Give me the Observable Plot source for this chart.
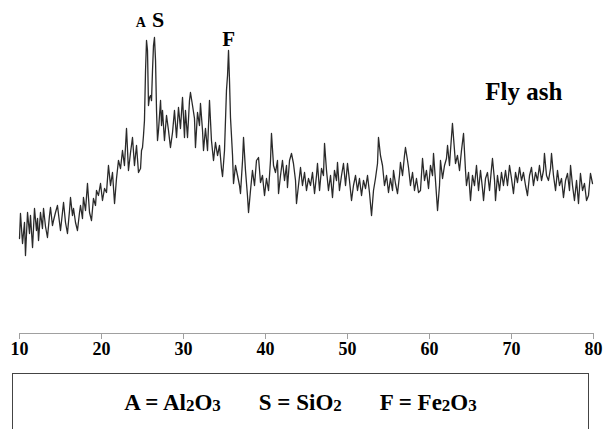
<!DOCTYPE html>
<html>
<head>
<meta charset="utf-8">
<script src="https://cdn.jsdelivr.net/npm/d3@7"></script>
<script src="https://cdn.jsdelivr.net/npm/@observablehq/plot@0.6"></script>
<style>
  html, body { margin: 0; padding: 0; background: #fff; }
  #chart { width: 604px; }
  #legend {
    position: absolute; left: 12px; top: 373px; width: 577px; height: 70px;
    border: 1.5px solid #444; box-sizing: border-box;
    font-family: "Liberation Serif", "Times New Roman", serif; font-weight: bold;
    font-size: 23px; color: #000; text-align: center; padding-top: 16px; white-space: nowrap;
  }
  #legend span { margin: 0 19px; }
  #legend sub { font-size: 17px; vertical-align: -1px; }
</style>
</head>
<body>
<div id="chart"></div>
<div id="legend"><span>A = Al<sub>2</sub>O<sub>3</sub></span><span>S = SiO<sub>2</sub></span><span>F = Fe<sub>2</sub>O<sub>3</sub></span></div>
<script>
const twoTheta = [
10.00,10.12,10.37,10.61,10.73,10.98,11.22,11.34,11.59,11.83,12.07,12.20,12.32,12.56,12.80,12.93,13.17,13.41,13.66,13.78,
14.02,14.15,14.39,14.63,14.88,15.00,15.24,15.37,15.61,15.85,16.10,16.22,16.46,16.59,16.83,17.07,17.32,17.44,17.68,17.80,
18.05,18.29,18.54,18.78,19.02,19.27,19.39,19.63,19.88,20.12,20.37,20.61,20.85,21.10,21.34,21.59,21.83,22.07,22.32,22.56,
22.80,23.05,23.29,23.54,23.78,24.02,24.27,24.51,24.76,24.88,25.00,25.12,25.24,25.37,25.49,25.61,25.73,25.85,25.98,26.10,
26.22,26.34,26.46,26.59,26.71,26.83,26.95,27.20,27.32,27.44,27.68,27.93,28.17,28.41,28.66,28.90,29.15,29.39,29.63,29.88,
30.12,30.24,30.49,30.73,30.85,31.10,31.34,31.46,31.71,31.95,32.07,32.32,32.44,32.68,32.93,33.17,33.41,33.66,33.90,34.15,
34.39,34.63,34.76,35.00,35.12,35.24,35.37,35.49,35.61,35.73,35.85,35.98,36.10,36.34,36.59,36.83,36.95,37.20,37.32,37.56,
37.80,37.93,38.17,38.41,38.66,38.90,39.15,39.39,39.63,39.88,40.12,40.37,40.61,40.73,40.98,41.22,41.46,41.59,41.83,42.07,
42.32,42.56,42.68,42.93,43.17,43.41,43.66,43.78,44.02,44.27,44.51,44.76,45.00,45.24,45.49,45.73,45.98,46.22,46.34,46.59,
46.83,47.07,47.20,47.44,47.68,47.93,48.17,48.41,48.66,48.78,49.02,49.27,49.51,49.76,50.00,50.24,50.49,50.73,50.98,51.22,
51.46,51.71,51.95,52.20,52.44,52.68,52.93,53.17,53.41,53.66,53.78,54.02,54.27,54.51,54.76,55.00,55.24,55.49,55.61,55.85,
56.10,56.34,56.46,56.71,56.95,57.07,57.32,57.44,57.68,57.93,58.17,58.41,58.66,58.90,59.15,59.39,59.63,59.88,60.12,60.37,
60.49,60.73,60.98,61.22,61.34,61.59,61.83,62.07,62.20,62.44,62.56,62.80,63.05,63.17,63.41,63.66,63.90,64.15,64.39,64.51,
64.76,65.00,65.24,65.49,65.73,65.98,66.22,66.46,66.59,66.83,67.07,67.32,67.56,67.68,67.93,68.05,68.29,68.54,68.78,69.02,
69.27,69.51,69.76,70.00,70.24,70.49,70.73,70.98,71.22,71.46,71.71,71.95,72.20,72.44,72.68,72.93,73.17,73.41,73.66,73.90,
74.02,74.27,74.51,74.76,74.88,75.12,75.37,75.61,75.85,76.10,76.34,76.59,76.83,77.07,77.20,77.44,77.68,77.93,78.17,78.41,
78.66,78.90,79.15,79.39,79.63,79.88
];
const intensity = [
190,240,180,222,156,242,200,236,172,250,206,230,186,242,210,250,214,192,236,252,
216,226,242,256,222,206,242,262,222,200,246,272,236,250,222,206,242,256,230,272,
246,300,242,226,270,256,286,276,300,266,290,282,336,296,322,260,310,346,330,366,
336,410,326,362,392,336,376,322,330,366,372,396,426,526,586,566,456,472,476,466,
526,576,592,546,446,386,406,466,416,446,386,436,406,372,402,446,392,452,410,472,
392,446,392,466,482,456,430,372,442,416,460,406,366,410,366,466,386,346,382,356,
376,330,314,366,426,486,516,566,506,432,396,356,300,336,316,296,280,346,392,326,
276,242,286,326,296,346,352,302,316,276,310,286,346,400,336,322,346,280,316,346,
306,336,292,346,360,340,306,260,296,332,296,322,286,310,296,322,280,316,340,286,
330,316,380,326,286,316,272,326,306,342,286,316,340,296,340,306,266,296,316,286,
310,276,306,290,316,282,236,286,310,340,392,356,336,296,316,282,310,286,326,300,
280,316,342,316,356,372,346,332,296,322,286,310,282,286,350,306,326,290,336,316,
360,306,246,296,346,310,336,350,376,336,366,420,366,340,356,326,366,400,326,296,
322,266,316,296,336,286,326,290,266,310,322,286,330,350,306,266,316,286,322,296,
326,296,336,310,280,322,302,332,306,322,296,276,316,332,296,322,306,336,306,326,
360,316,306,330,360,316,286,326,296,310,272,306,320,286,336,296,266,306,260,320,
286,300,266,276,320,300
];
const xTicks = [10, 20, 30, 40, 50, 60, 70, 80];
const peakLabels = ["A", "S", "F"];
const peakLabelX = [24.8, 26.9, 35.5];
const peakLabelY = [622, 628, 588];
const sampleLabel = "Fly ash";

const data = twoTheta.map((t, i) => ({t, v: intensity[i]}));
const font = "Liberation Serif, Times New Roman, serif";

const chart = Plot.plot({
  width: 604, height: 370,
  marginLeft: 19, marginRight: 11, marginTop: 33, marginBottom: 37,
  x: {domain: [10, 80]},
  y: {domain: [0, 600], axis: null},
  style: {fontFamily: font, fontWeight: "bold", fontSize: "18px", color: "#000", background: "#fff", overflow: "visible"},
  marks: [
    Plot.ruleY([0], {stroke: "#a0a0a0", strokeWidth: 1.2}),
    Plot.axisX({ticks: xTicks, tickSize: 6, tickPadding: 3, stroke: "#a0a0a0", fontSize: 18, fontWeight: "bold", label: null, tickFormat: d => String(d)}),
    Plot.line(data, {x: "t", y: "v", stroke: "#2a2a2a", strokeWidth: 1.3}),
    Plot.text([peakLabels[0]], {x: [peakLabelX[0]], y: [peakLabelY[0]], text: d => d, fontSize: 14, fontWeight: "bold"}),
    Plot.text([peakLabels[1]], {x: [peakLabelX[1]], y: [peakLabelY[1]], text: d => d, fontSize: 22, fontWeight: "bold"}),
    Plot.text([peakLabels[2]], {x: [peakLabelX[2]], y: [peakLabelY[2]], text: d => d, fontSize: 21, fontWeight: "bold"}),
    Plot.text([sampleLabel], {x: [71.5], y: [484], text: d => d, fontSize: 25, fontWeight: "bold"})
  ]
});
document.getElementById("chart").appendChild(chart);
</script>
</body>
</html>
